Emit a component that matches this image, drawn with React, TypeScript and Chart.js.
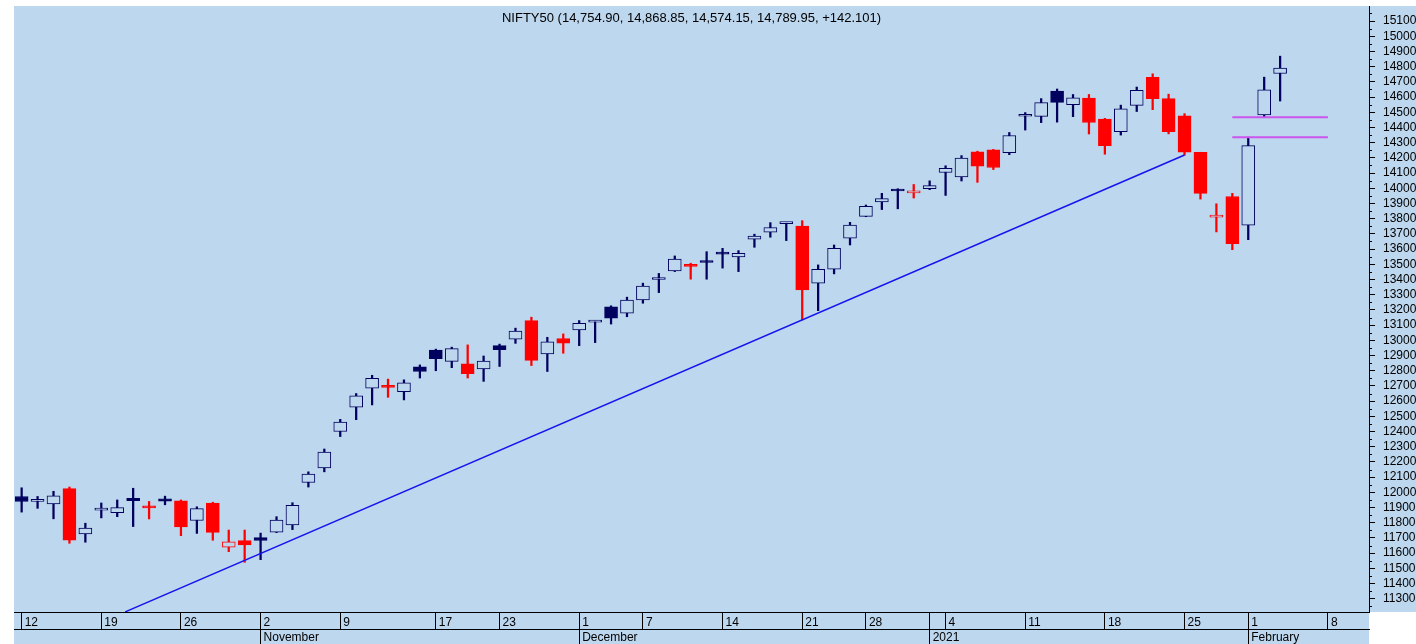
import { useEffect, useRef } from 'react';
import { Chart, registerables } from 'chart.js';

Chart.register(...registerables);

const TITLE = 'NIFTY50 (14,754.90, 14,868.85, 14,574.15, 14,789.95, +142.101)';

// Close of the session before the first candle (used for candle colouring)
const PREV_CLOSE = 11914;

// Daily candles, 12 Oct 2020 .. 3 Feb 2021 (index = trading-day position)
const OPEN = [
  11973, 11941, 11924, 12025, 11727, 11883, 11866, 11960, 11903, 11958,
  11945, 11815, 11930, 11640, 11682, 11702, 11738, 11786, 12065, 12160,
  12400, 12560, 12685, 12696, 12663, 12826, 12935, 12862, 12845, 12812,
  12965, 13008, 13130, 12911, 13012, 13068, 13120, 13220, 13178, 13266,
  13400, 13456, 13492, 13524, 13578, 13548, 13666, 13712, 13768, 13752,
  13376, 13468, 13672, 13815, 13910, 13988, 13970, 13997, 14104, 14075,
  14240, 14253, 14234, 14474, 14473, 14639, 14550, 14594, 14455, 14372,
  14545, 14730, 14590, 14477, 14237, 13810, 13946, 13758, 14482, 14755,
];
const HIGH = [
  12030, 11973, 12007, 12035, 11797, 11930, 11950, 12027, 11940, 11975,
  11950, 11905, 11935, 11752, 11752, 11732, 11840, 11932, 12135, 12285,
  12480, 12650, 12770, 12745, 12740, 12838, 12942, 12955, 12970, 12897,
  12975, 13080, 13152, 13020, 13042, 13130, 13128, 13227, 13284, 13376,
  13440, 13555, 13507, 13583, 13605, 13590, 13698, 13774, 13774, 13787,
  13496, 13627, 13776, 13890, 13967, 13997, 14025, 14049, 14148, 14215,
  14244, 14256, 14367, 14498, 14590, 14653, 14617, 14617, 14460, 14547,
  14666, 14753, 14619, 14491, 14237, 13898, 13967, 14336, 14731, 14869,
];
const LOW = [
  11870, 11895, 11826, 11665, 11672, 11832, 11840, 11775, 11825, 11918,
  11715, 11730, 11685, 11610, 11540, 11557, 11735, 11755, 12035, 12135,
  12367, 12478, 12575, 12625, 12608, 12752, 12800, 12820, 12752, 12730,
  12828, 12980, 12834, 12795, 12915, 12965, 12985, 13107, 13155, 13244,
  13314, 13452, 13402, 13402, 13475, 13452, 13612, 13678, 13656, 13134,
  13195, 13437, 13627, 13813, 13860, 13865, 13936, 13991, 13953, 14048,
  14039, 14123, 14221, 14383, 14432, 14435, 14471, 14357, 14224, 14350,
  14505, 14517, 14358, 14218, 13929, 13713, 13596, 13662, 14469, 14574,
];
const CLOSE = [
  11940, 11943, 11977, 11685, 11765, 11886, 11900, 11945, 11898, 11942,
  11772, 11893, 11737, 11675, 11655, 11683, 11818, 11915, 12120, 12265,
  12462, 12635, 12750, 12690, 12720, 12795, 12880, 12945, 12780, 12864,
  12938, 13060, 12868, 12990, 12982, 13112, 13123, 13145, 13265, 13357,
  13404, 13535, 13486, 13512, 13567, 13572, 13686, 13742, 13771, 13331,
  13467, 13605, 13758, 13882, 13932, 13982, 13981.75, 14018, 14132, 14199,
  14146, 14137, 14347, 14484, 14563, 14565, 14595, 14433, 14281, 14522,
  14645, 14590, 14372, 14238, 13967, 13818, 13635, 14281, 14648, 14790,
];

// Date axis
const DAY_TICKS = [0, 5, 10, 15, 20, 26, 30, 35, 39, 44, 49, 53, 57, 58, 63, 68, 73, 77, 82];
const DAY_LABELS = ['12', '19', '26', '2', '9', '17', '23', '1', '7', '14', '21', '28', '', '4', '11', '18', '25', '1', '8'];
const MONTH_TICKS = [15, 35, 57, 77];
const MONTH_LABELS = ['November', 'December', '2021', 'February'];

// Price axis
const Y_TICK_FIRST = 11300;
const Y_TICK_LAST = 15100;
const Y_TICK_STEP = 100;
const Y_MINOR_STEP = 50;
const Y_MIN = 11213;
const Y_MAX = 15199;
const X_MIN = -0.48;
const X_MAX = 84.58;

// Drawn trend line (index, value)
const TREND_X = [6.5, 73];
const TREND_Y = [11214, 14219];
// Gap lines
const GAP_LEVELS = [14467, 14336];
const GAP_X = [76, 82];

const BG = '#BDD7EE';
const NAVY = '#00005E';
const RED = '#FF0000';
const TREND_COLOR = '#1414F0';
const GAP_COLOR = '#CC55EE';
const FONT = "'Liberation Sans', Arial, sans-serif";

const noPad = (s: any) => {
  s.paddingTop = 0;
  s.paddingBottom = 0;
  s.paddingLeft = 0;
  s.paddingRight = 0;
};

export default function App() {
  const ref = useRef<HTMLCanvasElement | null>(null);

  useEffect(() => {
    document.body.style.margin = '0';
    const canvas = ref.current;
    if (!canvas) return;

    const yTicks: number[] = [];
    for (let v = Y_TICK_FIRST; v <= Y_TICK_LAST; v += Y_TICK_STEP) yTicks.push(v);

    const colors = CLOSE.map((c, i) => {
      const prev = i === 0 ? PREV_CLOSE : CLOSE[i - 1];
      return c >= prev ? NAVY : RED;
    });
    const bodyFill = CLOSE.map((c, i) => (c >= OPEN[i] ? BG : colors[i]));

    const dayMap = new Map<number, string>();
    DAY_TICKS.forEach((t, i) => dayMap.set(t, DAY_LABELS[i]));
    const monthMap = new Map<number, string>();
    MONTH_TICKS.forEach((t, i) => monthMap.set(t, MONTH_LABELS[i]));

    const framePlugin = {
      id: 'frame',
      beforeDraw(chart: any) {
        const { ctx, chartArea: a, width, height } = chart;
        ctx.save();
        ctx.fillStyle = '#ffffff';
        ctx.fillRect(0, 0, width, height);
        ctx.fillStyle = BG;
        ctx.fillRect(a.left, a.top, width - a.left, a.bottom - a.top);
        ctx.fillRect(a.left, a.bottom, a.right - a.left, height - a.bottom);
        ctx.restore();
      },
      afterDraw(chart: any) {
        const { ctx, chartArea: a } = chart;
        const ys = chart.scales.y;
        ctx.save();
        ctx.strokeStyle = '#000';
        ctx.lineWidth = 1;
        ctx.beginPath();
        for (let v = Math.ceil(Y_MIN / Y_MINOR_STEP) * Y_MINOR_STEP; v <= Y_MAX; v += Y_MINOR_STEP) {
          if (v % Y_TICK_STEP === 0) continue;
          const py = Math.round(ys.getPixelForValue(v)) + 0.5;
          ctx.moveTo(a.right, py);
          ctx.lineTo(a.right + 3, py);
        }
        ctx.stroke();
        ctx.fillStyle = '#000';
        ctx.font = `13px ${FONT}`;
        ctx.textAlign = 'center';
        ctx.textBaseline = 'middle';
        ctx.fillText(TITLE, (a.left + a.right) / 2, 18);
        ctx.restore();
      },
    };

    const chart = new Chart(canvas, {
      type: 'bar',
      data: {
        datasets: [
          {
            type: 'line',
            label: 'trend',
            data: TREND_X.map((x, i) => ({ x, y: TREND_Y[i] })),
            borderColor: TREND_COLOR,
            borderWidth: 1.5,
            pointRadius: 0,
            fill: false,
            order: 0,
            xAxisID: 'x',
            yAxisID: 'y',
          } as any,
          ...GAP_LEVELS.map(
            (lvl) =>
              ({
                type: 'line',
                label: 'gap',
                data: GAP_X.map((x) => ({ x, y: lvl })),
                borderColor: GAP_COLOR,
                borderWidth: 2,
                pointRadius: 0,
                fill: false,
                order: 0,
                xAxisID: 'x',
                yAxisID: 'y',
              }) as any,
          ),
          {
            type: 'bar',
            label: 'body',
            data: OPEN.map((o, i) => ({ x: i, y: [o, CLOSE[i]] })),
            backgroundColor: bodyFill,
            borderColor: colors,
            borderWidth: 1,
            borderSkipped: false,
            barThickness: 13,
            minBarLength: 2,
            grouped: false,
            order: 1,
            xAxisID: 'x',
            yAxisID: 'y',
          } as any,
          {
            type: 'bar',
            label: 'wick',
            data: LOW.map((l, i) => ({ x: i, y: [l, HIGH[i]] })),
            backgroundColor: colors,
            borderWidth: 0,
            barThickness: 1.6,
            grouped: false,
            order: 2,
            xAxisID: 'x',
            yAxisID: 'y',
          } as any,
        ],
      },
      options: {
        responsive: false,
        animation: false,
        devicePixelRatio: 1,
        events: [],
        layout: { padding: { left: 14, top: 6, right: 0, bottom: 0 } },
        plugins: { legend: { display: false }, tooltip: { enabled: false }, title: { display: false } },
        scales: {
          x: {
            type: 'linear',
            position: 'bottom',
            weight: 0,
            min: X_MIN,
            max: X_MAX,
            offset: false,
            afterBuildTicks: (s: any) => {
              s.ticks = DAY_TICKS.map((v) => ({ value: v }));
            },
            afterFit: (s: any) => {
              s.height = 17;
              noPad(s);
            },
            grid: { offset: false, drawOnChartArea: false, drawTicks: true, tickLength: 17, color: '#000', lineWidth: 1 },
            border: { display: true, color: '#000', width: 1 },
            ticks: {
              autoSkip: false,
              maxRotation: 0,
              minRotation: 0,
              align: 'start',
              labelOffset: 3,
              padding: -14,
              color: '#000',
              font: { family: FONT, size: 12 },
              callback: (v: any) => dayMap.get(Number(v)) ?? '',
            },
          },
          xm: {
            type: 'linear',
            position: 'bottom',
            weight: 1,
            min: X_MIN,
            max: X_MAX,
            offset: false,
            afterBuildTicks: (s: any) => {
              s.ticks = MONTH_TICKS.map((v) => ({ value: v }));
            },
            afterFit: (s: any) => {
              s.height = 15;
              noPad(s);
            },
            grid: { offset: false, drawOnChartArea: false, drawTicks: true, tickLength: 15, color: '#000', lineWidth: 1 },
            border: { display: true, color: '#000', width: 1 },
            ticks: {
              autoSkip: false,
              maxRotation: 0,
              minRotation: 0,
              align: 'start',
              labelOffset: 3,
              padding: -14,
              color: '#000',
              font: { family: FONT, size: 12 },
              callback: (v: any) => monthMap.get(Number(v)) ?? '',
            },
          },
          y: {
            type: 'linear',
            position: 'right',
            min: Y_MIN,
            max: Y_MAX,
            afterBuildTicks: (s: any) => {
              s.ticks = yTicks.map((v) => ({ value: v }));
            },
            afterFit: (s: any) => {
              s.width = 47;
              noPad(s);
            },
            grid: { drawOnChartArea: false, drawTicks: true, tickLength: 6, color: '#000', lineWidth: 1 },
            border: { display: true, color: '#000', width: 1 },
            ticks: {
              autoSkip: false,
              padding: 8,
              color: '#000',
              font: { family: FONT, size: 12 },
              callback: (v: any) => String(v),
            },
          },
        },
      } as any,
      plugins: [framePlugin],
    });

    return () => chart.destroy();
  }, []);

  return (
    <div style={{ width: 1416, height: 644 }}>
      <canvas ref={ref} width={1416} height={644} style={{ display: 'block' }} />
    </div>
  );
}
